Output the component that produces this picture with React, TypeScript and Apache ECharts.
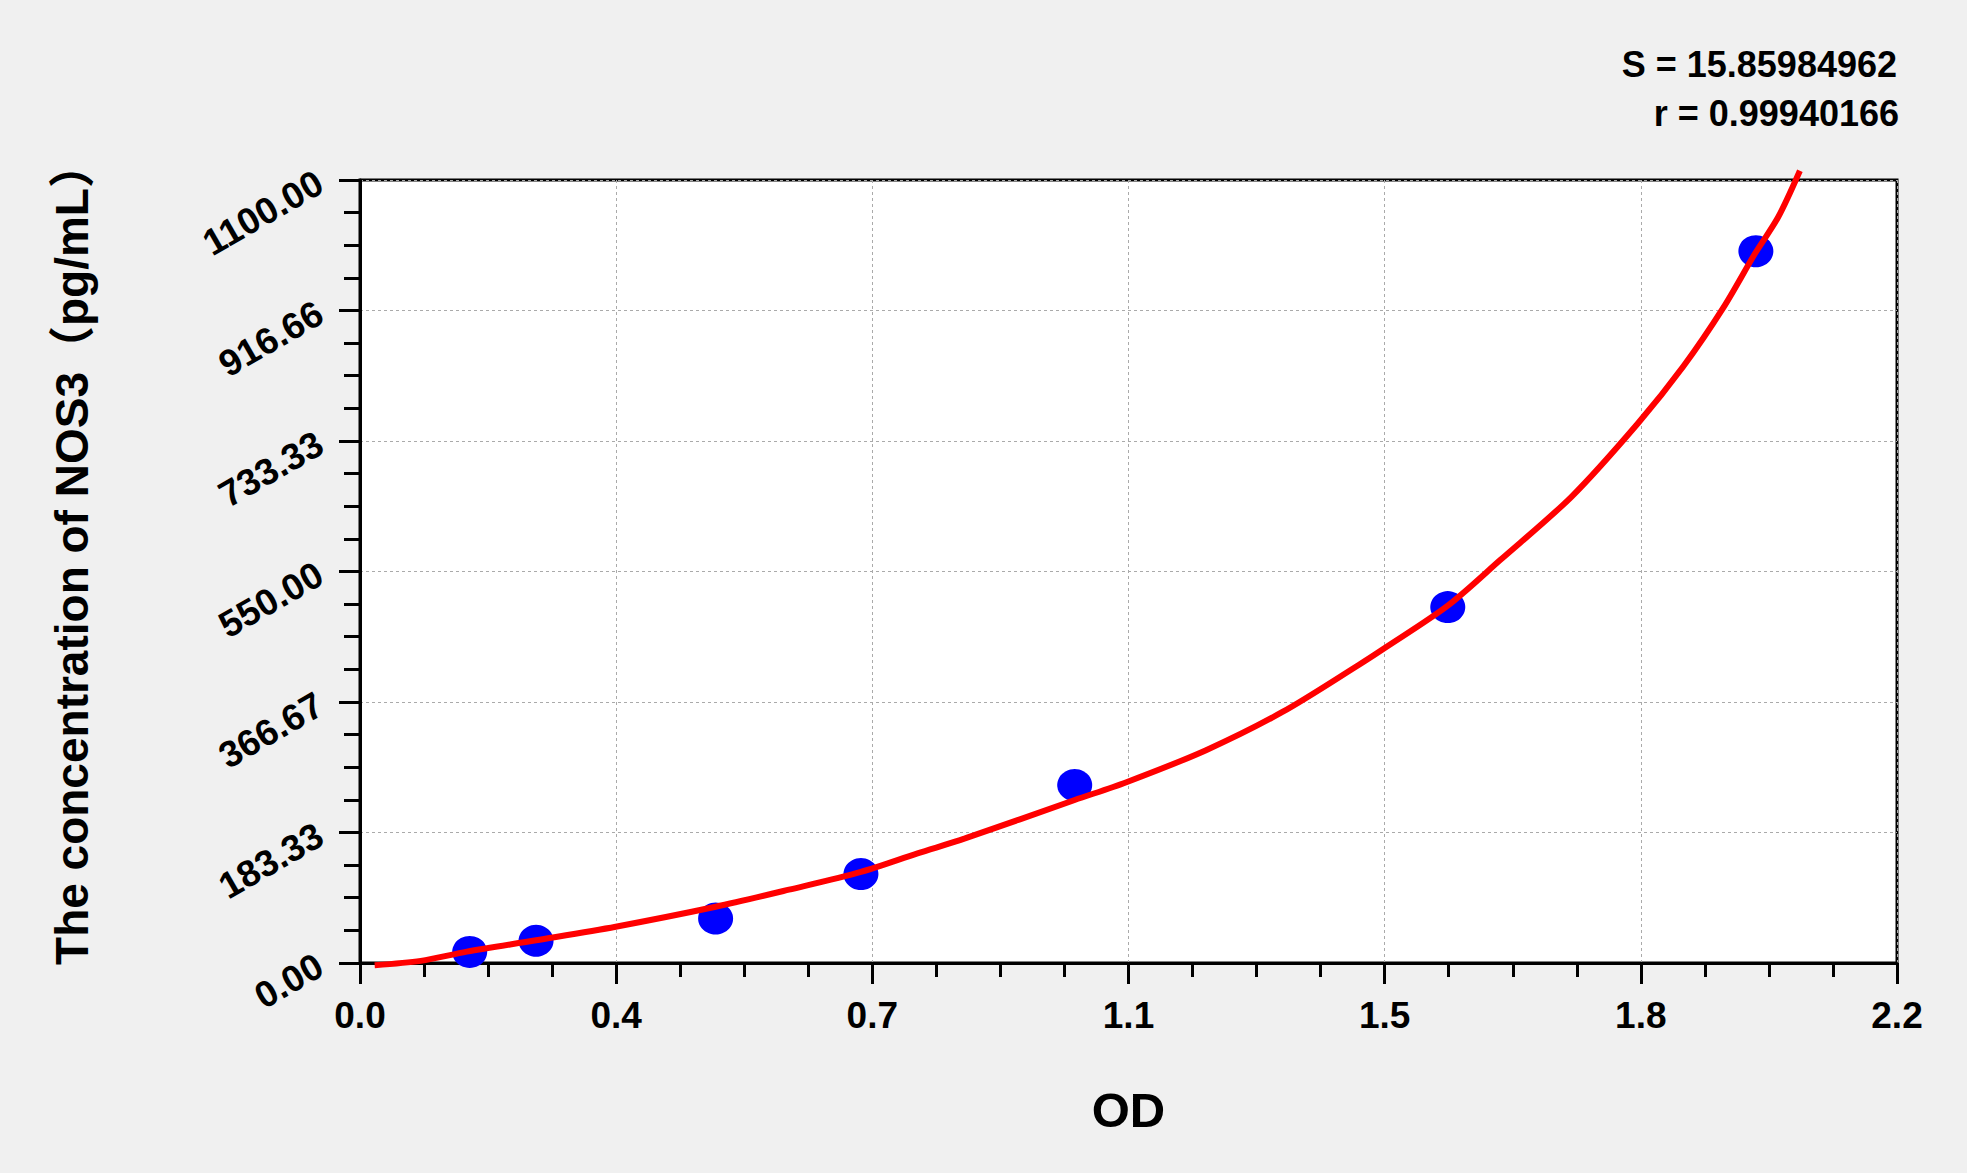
import React, { useEffect, useRef } from "react";
import * as echarts from "echarts";

// ---- data ----
const xTickLabels = ["0.0", "0.4", "0.7", "1.1", "1.5", "1.8", "2.2"];
const yTickLabels = ["0.00", "183.33", "366.67", "550.00", "733.33", "916.66", "1100.00"];

const odValues = [0.157, 0.252, 0.509, 0.717, 1.023, 1.557, 1.998];
const concValues = [15.6, 31.25, 62.5, 125, 250, 500, 1000];

const curveOD = [
  0.021, 0.087, 0.153, 0.252, 0.366, 0.509, 0.614, 0.717, 0.798, 0.866, 1.023, 1.097,
  1.211, 1.321, 1.43, 1.463, 1.557, 1.632, 1.734, 1.829, 1.894, 1.951, 1.997, 2.03, 2.061,
];
const curveConc = [
  -3, 3, 16, 32, 51, 79, 103, 128, 154, 175, 229, 254, 299, 353, 419, 440, 502, 566, 655,
  758, 838, 920, 997, 1048, 1113,
];

const xAxisMax = 2.2;
const yAxisMax = 1100;
const steps = 6;

const statS = "S = 15.85984962";
const statR = "r = 0.99940166";
const xName = "OD";
const yName = "The concentration of NOS3\uFF08pg/mL\uFF09";

const FONT = "'Liberation Sans', Arial, 'Noto Sans CJK SC', sans-serif";
const NARROW = "'Liberation Sans Narrow', 'Arial Narrow', 'Liberation Sans', Arial, sans-serif";

export default function App() {
  const ref = useRef<HTMLDivElement>(null);

  useEffect(() => {
    if (!ref.current) return;
    const chart = echarts.init(ref.current, undefined, { renderer: "svg" });
    const xIv = xAxisMax / steps;
    const yIv = yAxisMax / steps;

    const scatterData = odValues.map((x, i) => [x, concValues[i]]);
    const curveData = curveOD.map((x, i) => [x, curveConc[i]]);

    const tickLabelStyle = {
      color: "#000",
      fontFamily: FONT,
      fontWeight: "bold" as const,
      fontSize: 37,
    };

    chart.setOption({
      animation: false,
      backgroundColor: "#f0f0f0",
      grid: {
        left: 360,
        top: 180,
        right: 70,
        bottom: 210,
        show: true,
        backgroundColor: "#ffffff",
        borderColor: "#000000",
        borderWidth: 3,
        containLabel: false,
      },
      xAxis: {
        type: "value",
        min: 0,
        max: xAxisMax - 1e-9,
        interval: xIv,
        name: xName,
        nameLocation: "middle",
        nameGap: 122,
        nameTextStyle: { color: "#000", fontFamily: FONT, fontWeight: "bold", fontSize: 49 },
        axisLine: { show: true, onZero: false, lineStyle: { color: "#000", width: 3 } },
        axisTick: { show: true, inside: false, length: 21, lineStyle: { color: "#000", width: 3 } },
        minorTick: { show: true, splitNumber: 4, length: 14, lineStyle: { color: "#000", width: 3 } },
        axisLabel: {
          ...tickLabelStyle,
          margin: 34,
          formatter: (v: number) => xTickLabels[Math.round(v / xIv)] ?? "",
        },
        splitLine: { show: true, lineStyle: { color: "#aaaaaa", width: 1, type: [3, 3] } },
      },
      yAxis: {
        type: "value",
        min: 0,
        max: yAxisMax - 1e-7,
        interval: yIv,
        name: yName,
        nameLocation: "middle",
        nameGap: 265,
        nameRotate: 90,
        nameTextStyle: {
          color: "#000",
          fontFamily: FONT,
          fontWeight: "bold",
          fontSize: 46,
          padding: [0, 0, 0, 36],
        },
        axisLine: { show: true, onZero: false, lineStyle: { color: "#000", width: 3 } },
        axisTick: { show: true, inside: false, length: 21, lineStyle: { color: "#000", width: 3 } },
        minorTick: { show: true, splitNumber: 4, length: 16, lineStyle: { color: "#000", width: 3 } },
        axisLabel: {
          ...tickLabelStyle,
          margin: 40,
          rotate: 30,
          formatter: (v: number) => yTickLabels[Math.round(v / yIv)] ?? "",
        },
        splitLine: { show: true, lineStyle: { color: "#aaaaaa", width: 1, type: [3, 3] } },
      },
      graphic: [
        {
          type: "text",
          x: 1897,
          y: 64,
          style: {
            text: statS,
            fill: "#000",
            font: `bold 36px ${NARROW}`,
            textAlign: "right",
            textVerticalAlign: "middle",
          },
        },
        {
          type: "text",
          x: 1899,
          y: 113,
          style: {
            text: statR,
            fill: "#000",
            font: `bold 36px ${NARROW}`,
            textAlign: "right",
            textVerticalAlign: "middle",
          },
        },
      ],
      series: [
        {
          type: "scatter",
          data: scatterData,
          symbol: "circle",
          symbolSize: [35, 32],
          itemStyle: { color: "#0000ff", opacity: 1 },
          z: 2,
        },
        {
          type: "line",
          data: curveData,
          showSymbol: false,
          smooth: 0.3,
          clip: false,
          lineStyle: { color: "#ff0000", width: 6 },
          z: 3,
        },
      ],
    });

    return () => chart.dispose();
  }, []);

  return (
    <div
      ref={ref}
      style={{ position: "fixed", left: 0, top: 0, width: 1967, height: 1173 }}
    />
  );
}
